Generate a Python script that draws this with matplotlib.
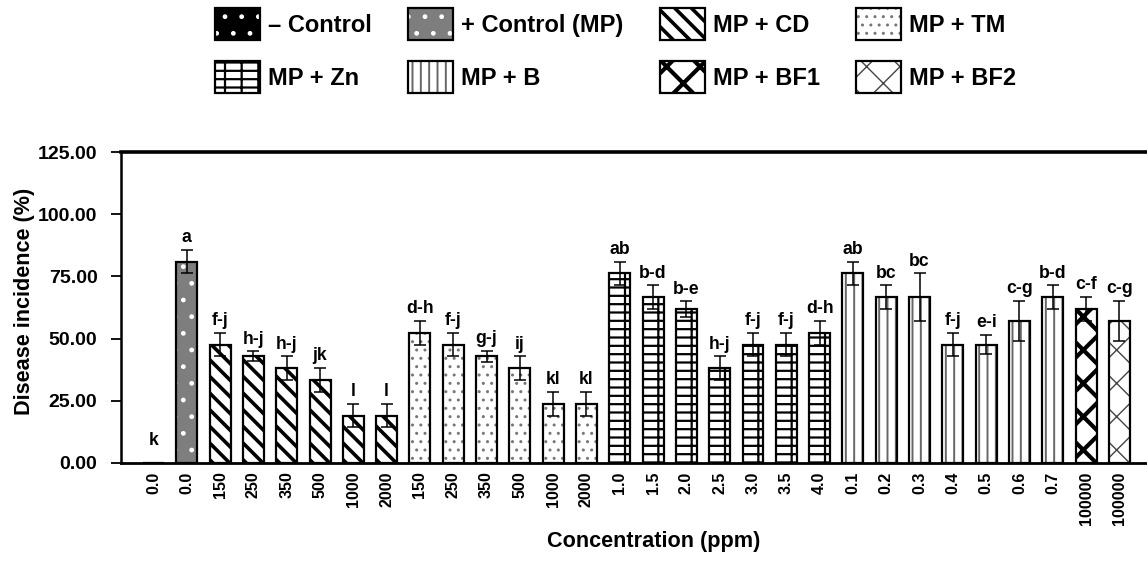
import numpy as np
import matplotlib
matplotlib.use("Agg")
import matplotlib.pyplot as plt
from matplotlib.legend_handler import HandlerTuple

plt.rcParams["font.family"] = ["Liberation Sans", "DejaVu Sans"]
plt.rcParams["font.weight"] = "bold"

# treatments (legend) and the bars
groups = ["\u2013 Control", "+ Control (MP)", "MP + CD", "MP + TM",
          "MP + Zn", "MP + B", "MP + BF1", "MP + BF2"]
bar_group = [0, 1,
             2, 2, 2, 2, 2, 2,
             3, 3, 3, 3, 3, 3,
             4, 4, 4, 4, 4, 4, 4,
             5, 5, 5, 5, 5, 5, 5,
             6, 7]
conc = ["0.0", "0.0",
        "150", "250", "350", "500", "1000", "2000",
        "150", "250", "350", "500", "1000", "2000",
        "1.0", "1.5", "2.0", "2.5", "3.0", "3.5", "4.0",
        "0.1", "0.2", "0.3", "0.4", "0.5", "0.6", "0.7",
        "100000", "100000"]
incidence = [0.0, 80.95,
             47.62, 42.86, 38.10, 33.33, 19.05, 19.05,
             52.38, 47.62, 42.86, 38.10, 23.81, 23.81,
             76.19, 66.67, 61.90, 38.10, 47.62, 47.62, 52.38,
             76.19, 66.67, 66.67, 47.62, 47.62, 57.14, 66.67,
             61.90, 57.14]
err = [0.0, 4.76,
       4.76, 2.0, 4.76, 4.76, 4.76, 4.76,
       4.76, 4.76, 2.2, 4.76, 4.76, 4.76,
       4.76, 4.76, 3.1, 4.76, 4.76, 4.76, 4.76,
       4.76, 4.76, 9.52, 4.76, 4.0, 8.0, 4.76,
       4.76, 8.0]
letters = ["k", "a",
           "f-j", "h-j", "h-j", "jk", "l", "l",
           "d-h", "f-j", "g-j", "ij", "kl", "kl",
           "ab", "b-d", "b-e", "h-j", "f-j", "f-j", "d-h",
           "ab", "bc", "bc", "f-j", "e-i", "c-g", "b-d",
           "c-f", "c-g"]

# fill, hatch, hatch colour, hatch width for each treatment
styles = [
    ("black", ".", "white", 1.0),
    ("#7e7e7e", ".", "white", 1.0),
    ("white", "\\\\", "black", 2.6),
    ("white", "..", "#777777", 1.0),
    ("white", "+-", "black", 1.6),
    ("white", "||", "#666666", 1.4),
    ("white", "x", "black", 3.0),
    ("white", "x", "#444444", 1.0),
]

x = np.arange(len(conc))
y = np.array(incidence)
e = np.array(err)
g = np.array(bar_group)

fig = plt.figure(figsize=(11.47, 5.62), dpi=100)
ax = fig.add_axes([0.1055, 0.1762, 0.8945, 0.5533])

handles = []
for k, name in enumerate(groups):
    face, hatch, hcol, hlw = styles[k]
    idx = g == k
    with plt.rc_context({"hatch.linewidth": hlw}):
        inner = ax.bar(x[idx], y[idx], width=0.63, color=face, edgecolor=hcol,
                       linewidth=0, hatch=hatch, zorder=2)
    for p in inner:
        if hasattr(p, "set_hatch_linewidth"):
            p.set_hatch_linewidth(hlw)
    outer = ax.bar(x[idx], y[idx], width=0.63, fill=False, edgecolor="black",
                   linewidth=1.6, zorder=3)
    handles.append((inner.patches[0], outer.patches[0]))

has_err = e > 0
ax.errorbar(x[has_err], y[has_err], yerr=e[has_err], fmt="none", ecolor="black",
            elinewidth=1.1, capsize=4.5, capthick=1.1, zorder=4)

for i in range(len(x)):
    ax.text(x[i], max(y[i] + e[i], 4.0) + 1.5, letters[i], ha="center",
            va="bottom", fontsize=12.7, fontweight="bold")

ax.set_xlim(-0.976, 29.83)
ax.set_ylim(0, 125)
ax.set_yticks(np.arange(0, 126, 25))
ax.set_yticklabels([f"{v:.2f}" for v in np.arange(0, 126, 25)])
ax.set_xticks(x)
ax.set_xticklabels(conc, rotation=90)
ax.tick_params(axis="y", labelsize=14, length=7, width=1.3, pad=10)
ax.tick_params(axis="x", labelsize=11.5, length=0, pad=6)

ax.spines["right"].set_visible(False)
ax.spines["top"].set_linewidth(2.6)
ax.spines["left"].set_linewidth(1.8)
ax.spines["bottom"].set_linewidth(2.0)

ax.set_ylabel("Disease incidence (%)", fontsize=15.6, fontweight="bold")
ax.yaxis.set_label_coords(-0.084, 0.52)
ax.set_xlabel("Concentration (ppm)", fontsize=15.6, fontweight="bold")
ax.xaxis.set_label_coords(0.519, -0.2186)

# legend reads row by row
order = [0, 4, 1, 5, 2, 6, 3, 7]
leg = fig.legend([handles[i] for i in order], [groups[i] for i in order], ncol=4,
                 loc="upper left", bbox_to_anchor=(0.1874, 0.985), frameon=False,
                 handlelength=1.9, handleheight=1.7, handletextpad=0.34,
                 columnspacing=1.55, labelspacing=0.88, borderpad=0,
                 borderaxespad=0, prop={"weight": "bold", "size": 17},
                 handler_map={tuple: HandlerTuple(ndivide=1, pad=0)})
for h, i in zip(leg.legend_handles, order):
    if hasattr(h, "set_hatch_linewidth"):
        h.set_hatch_linewidth(styles[i][3])

fig.savefig("out.png", dpi=100)
